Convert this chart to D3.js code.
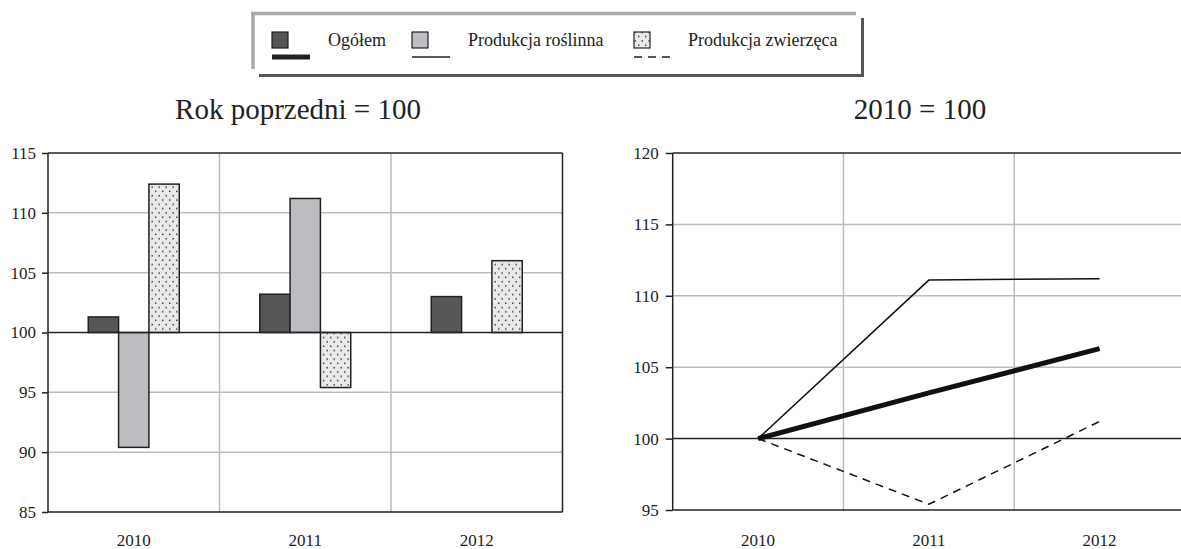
<!DOCTYPE html>
<html>
<head>
<meta charset="utf-8">
<script src="https://cdnjs.cloudflare.com/ajax/libs/d3/7.8.5/d3.min.js"></script>
<style>
  html, body { margin: 0; padding: 0; background: #fff; }
  svg { display: block; }
  text { font-family: "Liberation Serif", "Times New Roman", serif; fill: #222; }
</style>
</head>
<body>
<svg id="chart" width="1181" height="549"></svg>
<script>
// ---- data ----
const years = ["2010", "2011", "2012"];
const seriesNames = ["Ogółem", "Produkcja roślinna", "Produkcja zwierzęca"];
// previous year = 100
const prevOgolem    = [101.3, 103.2, 103.0];
const prevRoslinna  = [90.4, 111.2, 100.0];
const prevZwierzeca = [112.4, 95.4, 106.0];
// 2010 = 100
const baseOgolem    = [100, 103.2, 106.3];
const baseRoslinna  = [100, 111.1, 111.2];
const baseZwierzeca = [100, 95.4, 101.2];
const leftTicks  = [85, 90, 95, 100, 105, 110, 115];
const rightTicks = [95, 100, 105, 110, 115, 120];
const leftTitle  = "Rok poprzedni = 100";
const rightTitle = "2010 = 100";

const svg = d3.select("#chart");
const dark = "#222";
const grid = "#bdbdbd";
const fills = ["#565656", "#bcbdc1", "url(#dots)"];

// dot pattern
const defs = svg.append("defs");
const pat = defs.append("pattern").attr("id", "dots").attr("patternUnits", "userSpaceOnUse")
  .attr("width", 7).attr("height", 8.6);
pat.append("rect").attr("width", 7).attr("height", 8.6).attr("fill", "#e9e9eb");
pat.append("rect").attr("x", 1).attr("y", 1.5).attr("width", 1.4).attr("height", 1.4).attr("fill", "#333");
pat.append("rect").attr("x", 4.5).attr("y", 5.8).attr("width", 1.4).attr("height", 1.4).attr("fill", "#333");

// ---- legend ----
const lg = svg.append("g");
lg.append("line").attr("x1", 251).attr("x2", 856).attr("y1", 13.5).attr("y2", 13.5).attr("stroke", "#a9a9ab").attr("stroke-width", 3.5);
lg.append("line").attr("x1", 253).attr("x2", 253).attr("y1", 12).attr("y2", 69).attr("stroke", "#a9a9ab").attr("stroke-width", 3.5);
lg.append("line").attr("x1", 259).attr("x2", 864).attr("y1", 75.5).attr("y2", 75.5).attr("stroke", "#555", ).attr("stroke-width", 3);
lg.append("line").attr("x1", 862.5).attr("x2", 862.5).attr("y1", 18).attr("y2", 77).attr("stroke", "#555").attr("stroke-width", 3);

const legX = [272, 412, 634];
const textX = [328, 468, 688];
const lineStyles = [
  { w: 5, dash: null },
  { w: 1.5, dash: null },
  { w: 1.5, dash: "8,6" }
];
seriesNames.forEach((name, i) => {
  lg.append("rect").attr("x", legX[i]).attr("y", 32).attr("width", 16).attr("height", 16)
    .attr("fill", fills[i]).attr("stroke", dark).attr("stroke-width", 1.2);
  lg.append("line").attr("x1", legX[i]).attr("x2", legX[i] + 38).attr("y1", 57).attr("y2", 57)
    .attr("stroke", dark).attr("stroke-width", lineStyles[i].w)
    .attr("stroke-dasharray", lineStyles[i].dash);
  lg.append("text").attr("x", textX[i]).attr("y", 46).attr("font-size", 18).text(name);
});

// ---- left chart: bars ----
const L = { x0: 48, x1: 562.5, y0: 153, y1: 512 };
const xL = d3.scaleBand().domain(years).range([L.x0, L.x1]).padding(0);
const yL = d3.scaleLinear().domain([85, 115]).range([L.y1, L.y0]);
const bw = xL.bandwidth();
const groupW = 91;
const xInner = d3.scaleBand().domain([0, 1, 2]).range([bw / 2 - groupW / 2, bw / 2 + groupW / 2]).padding(0);

const gl = svg.append("g");
// grid
gl.selectAll(".hg").data(leftTicks.filter(t => t !== 85 && t !== 115 && t !== 100)).enter().append("line")
  .attr("x1", L.x0).attr("x2", L.x1).attr("y1", d => yL(d)).attr("y2", d => yL(d))
  .attr("stroke", grid).attr("stroke-width", 1.5);
gl.selectAll(".vg").data(years.slice(1)).enter().append("line")
  .attr("x1", d => xL(d)).attr("x2", d => xL(d)).attr("y1", L.y0).attr("y2", L.y1)
  .attr("stroke", grid).attr("stroke-width", 1.5);

// bars
const leftSeries = [prevOgolem, prevRoslinna, prevZwierzeca];
leftSeries.forEach((vals, si) => {
  gl.selectAll(".bar" + si).data(vals.map((v, i) => ({ y: years[i], v }))).enter().append("rect")
    .attr("x", d => xL(d.y) + xInner(si))
    .attr("width", xInner.bandwidth())
    .attr("y", d => yL(Math.max(d.v, 100)))
    .attr("height", d => Math.abs(yL(d.v) - yL(100)))
    .attr("fill", fills[si]).attr("stroke", dark).attr("stroke-width", 1.5);
});
// 100 line
gl.append("line").attr("x1", L.x0).attr("x2", L.x1).attr("y1", yL(100)).attr("y2", yL(100))
  .attr("stroke", dark).attr("stroke-width", 1.5);
// frame
gl.append("line").attr("x1", L.x0).attr("x2", L.x1).attr("y1", L.y0).attr("y2", L.y0).attr("stroke", dark).attr("stroke-width", 1.5);
gl.append("line").attr("x1", L.x1).attr("x2", L.x1).attr("y1", L.y0).attr("y2", L.y1).attr("stroke", dark).attr("stroke-width", 1.5);
gl.append("line").attr("x1", L.x0).attr("x2", L.x1).attr("y1", L.y1).attr("y2", L.y1).attr("stroke", dark).attr("stroke-width", 1.5);

// axes
const axL = gl.append("g").attr("transform", `translate(${L.x0},0)`)
  .call(d3.axisLeft(yL).tickValues(leftTicks).tickSize(6).tickPadding(6));
axL.selectAll("text").attr("font-size", 17).attr("fill", dark).attr("font-family", "Liberation Serif, serif");
axL.selectAll("line, path").attr("stroke", dark).attr("stroke-width", 1.5);
axL.select(".domain").attr("d", `M0,${L.y0}V${L.y1}`);

const axLb = gl.append("g").attr("transform", `translate(0,${L.y1})`)
  .call(d3.axisBottom(xL).tickSize(0).tickPadding(22));
axLb.select(".domain").remove();
axLb.selectAll("text").attr("font-size", 17).attr("fill", dark).attr("font-family", "Liberation Serif, serif");

gl.append("text").attr("x", 298).attr("y", 119).attr("text-anchor", "middle").attr("font-size", 29).text(leftTitle);

// ---- right chart: lines ----
const R = { x0: 672.7, x1: 1185, y0: 153, y1: 510 };
const xR = d3.scaleBand().domain(years).range([R.x0, R.x1]).padding(0);
const yR = d3.scaleLinear().domain([95, 120]).range([R.y1, R.y0]);
const gr = svg.append("g");
gr.selectAll(".hg").data(rightTicks.filter(t => t !== 95 && t !== 120 && t !== 100)).enter().append("line")
  .attr("x1", R.x0).attr("x2", R.x1).attr("y1", d => yR(d)).attr("y2", d => yR(d))
  .attr("stroke", grid).attr("stroke-width", 1.5);
gr.selectAll(".vg").data(years.slice(1)).enter().append("line")
  .attr("x1", d => xR(d)).attr("x2", d => xR(d)).attr("y1", R.y0).attr("y2", R.y1)
  .attr("stroke", grid).attr("stroke-width", 1.5);
gr.append("line").attr("x1", R.x0).attr("x2", R.x1).attr("y1", yR(100)).attr("y2", yR(100))
  .attr("stroke", dark).attr("stroke-width", 1.5);
gr.append("line").attr("x1", R.x0).attr("x2", R.x1).attr("y1", R.y0).attr("y2", R.y0).attr("stroke", dark).attr("stroke-width", 1.5);
gr.append("line").attr("x1", R.x0).attr("x2", R.x1).attr("y1", R.y1).attr("y2", R.y1).attr("stroke", dark).attr("stroke-width", 1.5);

const line = d3.line().x((d, i) => xR(years[i]) + xR.bandwidth() / 2).y(d => yR(d));
const rightSeries = [baseOgolem, baseRoslinna, baseZwierzeca];
[2, 1, 0].forEach(si => {
  gr.append("path").datum(rightSeries[si]).attr("d", line)
    .attr("fill", "none").attr("stroke", "#111")
    .attr("stroke-width", lineStyles[si].w)
    .attr("stroke-dasharray", lineStyles[si].dash);
});

const axR = gr.append("g").attr("transform", `translate(${R.x0},0)`)
  .call(d3.axisLeft(yR).tickValues(rightTicks).tickSize(7).tickPadding(7));
axR.selectAll("text").attr("font-size", 17).attr("fill", dark).attr("font-family", "Liberation Serif, serif");
axR.selectAll("line, path").attr("stroke", dark).attr("stroke-width", 1.5);
axR.select(".domain").attr("d", `M0,${R.y0}V${R.y1}`);

const axRb = gr.append("g").attr("transform", `translate(0,${R.y1})`)
  .call(d3.axisBottom(xR).tickSize(0).tickPadding(24));
axRb.select(".domain").remove();
axRb.selectAll("text").attr("font-size", 17).attr("fill", dark).attr("font-family", "Liberation Serif, serif");

gr.append("text").attr("x", 920).attr("y", 119).attr("text-anchor", "middle").attr("font-size", 29).text(rightTitle);
</script>
</body>
</html>
